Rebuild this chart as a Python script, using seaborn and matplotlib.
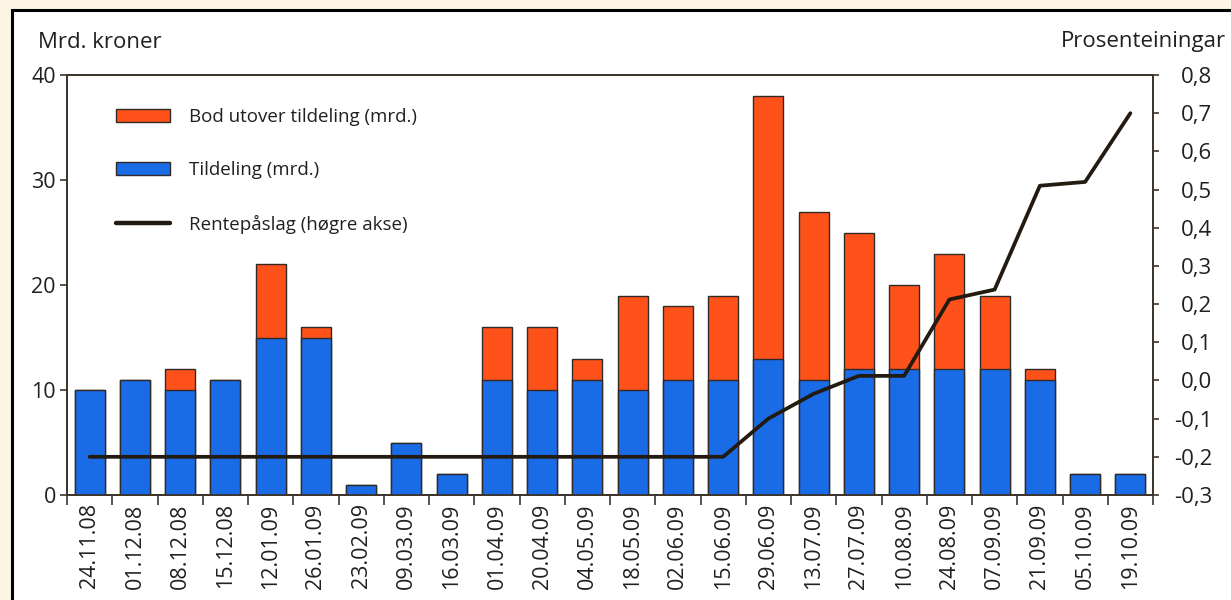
import matplotlib
matplotlib.use("Agg")
import matplotlib.pyplot as plt
import matplotlib.patches as mpatches
from matplotlib.lines import Line2D
from matplotlib.ticker import FuncFormatter, FixedLocator
import numpy as np
import pandas as pd
import seaborn as sns

dates = ["24.11.08", "01.12.08", "08.12.08", "15.12.08", "12.01.09", "26.01.09",
         "23.02.09", "09.03.09", "16.03.09", "01.04.09", "20.04.09", "04.05.09",
         "18.05.09", "02.06.09", "15.06.09", "29.06.09", "13.07.09", "27.07.09",
         "10.08.09", "24.08.09", "07.09.09", "21.09.09", "05.10.09", "19.10.09"]
tildeling = [10, 11, 10, 11, 15, 15, 1, 5, 2, 11, 10, 11,
             10, 11, 11, 13, 11, 12, 12, 12, 12, 11, 2, 2]
bod_total = [10, 11, 12, 11, 22, 16, 1, 5, 2, 16, 16, 13,
             19, 18, 19, 38, 27, 25, 20, 23, 19, 12, 2, 2]
rentepaaslag = [-0.2, -0.2, -0.2, -0.2, -0.2, -0.2, -0.2, -0.2, -0.2, -0.2, -0.2, -0.2,
                -0.2, -0.2, -0.2, -0.1, -0.035, 0.012, 0.012, 0.212, 0.238, 0.51, 0.52, 0.70]

ORANGE = "#FF521B"
BLUE = "#1A6BE6"
LINE = "#231A10"
EDGE = "#2f2a26"
TXT = "#231f20"
SPINE = "#3d352c"

sns.set_theme(style="white")
plt.rcParams['font.family'] = ['Open Sans', 'DejaVu Sans']

fig = plt.figure(figsize=(12.31, 6.0), dpi=100)
fig.patch.set_facecolor("#FDF5E3")
frame = mpatches.Rectangle((12 / 1231, -0.2), 1.2, 1.2 - 10 / 600, transform=fig.transFigure,
                           facecolor="white", edgecolor="black", linewidth=2.2, zorder=-10)
fig.patches.append(frame)

ax = fig.add_axes([67 / 1231, 1 - 495 / 600, (1153 - 67) / 1231, 420 / 600])
ax.set_facecolor("none")

df = pd.DataFrame({"dato": dates, "tildeling": tildeling, "total": bod_total})
n = len(dates)
sns.barplot(data=df, x="dato", y="total", color=ORANGE, width=0.66, saturation=1,
            edgecolor=EDGE, linewidth=1.0, ax=ax, zorder=2)
sns.barplot(data=df, x="dato", y="tildeling", color=BLUE, width=0.66, saturation=1,
            edgecolor=EDGE, linewidth=1.0, ax=ax, zorder=3)

FS = 15.5
ax.set_xlim(-0.5, n - 0.5)
ax.set_ylim(0, 40)
ax.set_yticks([0, 10, 20, 30, 40])
ax.set_xlabel("")
ax.set_ylabel("")
ax.set_xticks(range(n))
ax.set_xticklabels(dates, rotation=90, fontsize=FS, color=TXT)
ax.xaxis.set_minor_locator(FixedLocator(np.arange(-0.5, n, 1.0)))
ax.tick_params(axis="x", which="major", length=0, pad=6)
ax.tick_params(axis="x", which="minor", length=7, width=1.2, color=SPINE, direction="out", bottom=True)
ax.tick_params(axis="y", which="major", length=5, width=1.2, color=SPINE, direction="out",
               labelsize=FS, labelcolor=TXT, left=True, pad=3)
for s in ax.spines.values():
    s.set_color(SPINE)
    s.set_linewidth(1.3)
    s.set_visible(True)
ax.grid(False)

ax2 = ax.twinx()
sns.lineplot(x=np.arange(n), y=rentepaaslag, color=LINE, linewidth=2.7, ax=ax2, zorder=5)
ax2.set_ylim(-0.3, 0.8)
ax2.set_yticks(np.round(np.arange(-0.3, 0.81, 0.1), 1))
ax2.yaxis.set_major_formatter(FuncFormatter(lambda v, p: f"{v:.1f}".replace(".", ",").replace("-0,0", "0,0")))
ax2.tick_params(axis="y", which="major", length=4.5, width=1.2, color=SPINE, direction="out",
                labelsize=FS + 0.5, labelcolor=TXT, right=True, pad=38)
for lbl in ax2.get_yticklabels():
    lbl.set_horizontalalignment("right")
ax2.set_xlim(-0.5, n - 0.5)
ax2.grid(False)
for s in ax2.spines.values():
    s.set_color(SPINE)
    s.set_linewidth(1.3)

handles = [mpatches.Patch(facecolor=ORANGE, edgecolor=EDGE, linewidth=1.0),
           mpatches.Patch(facecolor=BLUE, edgecolor=EDGE, linewidth=1.0),
           Line2D([0], [0], color=LINE, linewidth=3.2)]
labels = ["Bod utover tildeling (mrd.)", "Tildeling (mrd.)", "Rentepåslag (høgre akse)"]
leg = ax2.legend(handles, labels, loc="upper left", bbox_to_anchor=(0.038, 0.94),
                 frameon=False, fontsize=13.5, handlelength=2.9, handleheight=0.7,
                 handletextpad=1.0, labelspacing=1.9, borderaxespad=0)
for t in leg.get_texts():
    t.set_color(TXT)

fig.text(38 / 1231, 1 - 42 / 600, "Mrd. kroner", fontsize=FS + 0.5, color=TXT, ha="left", va="center")
fig.text(1226 / 1231, 1 - 42 / 600, "Prosenteiningar", fontsize=FS + 0.5, color=TXT, ha="right", va="center")

fig.savefig("out.png", dpi=100, facecolor=fig.get_facecolor())
